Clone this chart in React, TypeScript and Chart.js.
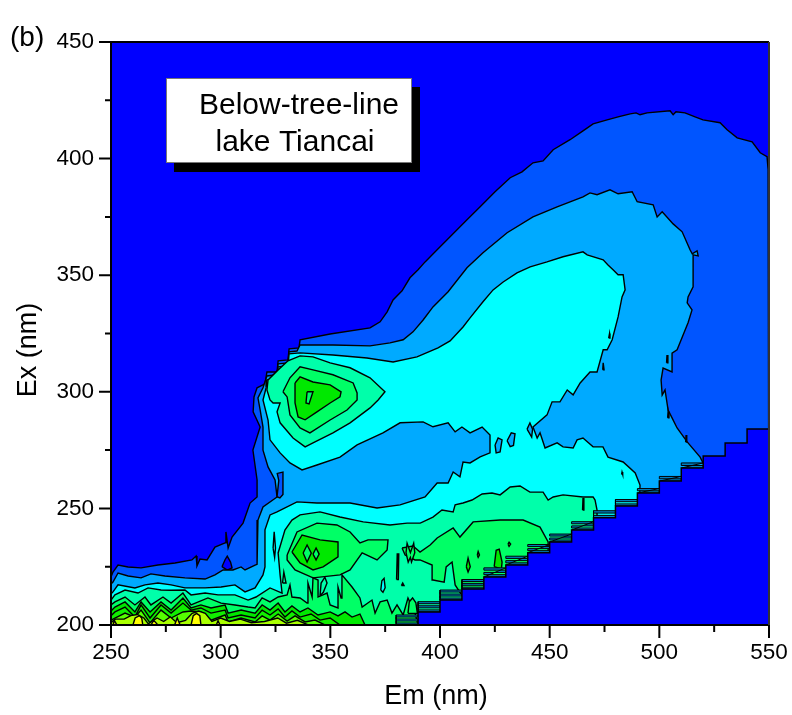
import React, { useEffect, useRef } from "react";
import { Chart, registerables } from "chart.js";

Chart.register(...registerables);

type P = [number, number];

const xTickValues = [250, 300, 350, 400, 450, 500, 550];
const yTickValues = [200, 250, 300, 350, 400, 450];

// Contour outlines, [Em, Ex] in nm.
const level1: P[] = [[250,220.6],[250.9,222.7],[253.2,225.7],[257.8,224.9],[263.7,224.5],[271.4,225.7],[279.2,226.6],[286.9,227.9],[288.8,229.6],[289.2,225.3],[290.6,228.3],[293.8,227.9],[297.4,233.4],[302,235.2],[302.4,239.9],[303.4,233],[305.2,237.7],[310.2,243.7],[313.4,252.3],[316.6,254.9],[316.6,262.2],[314.7,275],[318,284.9],[314.8,291.4],[315.2,297.8],[316.6,301.7],[320.2,303.4],[321.1,308.5],[325.7,308.5],[326.2,313.3],[330.7,313.7],[331.2,318.4],[335.7,318.8],[336.2,322.3],[349.9,324.8],[368.1,327.4],[372.7,330],[375.9,334.3],[378.6,339.4],[382.7,343.3],[386.3,348.9],[390,352.3],[393.2,355.7],[398.7,360.9],[404.6,366.5],[411.4,372.9],[418.3,379.3],[425.1,385.8],[432,391.8],[437.4,394.3],[442.4,398.2],[447,399],[451.6,403.8],[459.3,408.1],[465.2,411.9],[469.8,414.9],[476.2,416.6],[481.2,417.9],[486.7,419.2],[489.4,419.6],[491.2,418.8],[494.4,419.6],[504.9,420.5],[506.3,418.8],[507.6,420.1],[511.7,419.6],[516.3,417.9],[519.9,416.6],[527.7,415.4],[530.9,412.4],[535.5,408.9],[542.3,407.2],[546,402.5],[549.1,400.8],[549.6,395.2],[550,200],[250,200]];
const level1Hole: P[] = [[300.6,225],[302,228],[303,229.5],[304.5,227],[305.2,224.5],[303,223.5]];
const level2: P[] = [[525,260],[518.6,272],[512.7,278.5],[508.1,284.5],[505.8,288.8],[504,292.2],[502.6,300.8],[501.3,298.6],[500.8,305],[501.7,310.2],[505.8,308.5],[505.8,316.6],[508.1,318],[513.1,329.6],[514.9,335.1],[512.7,338.1],[513.1,340.7],[515.4,345],[515.4,358.7],[517.7,358.3],[517.2,360.4],[515,359.2],[514,360.9],[510.4,368.6],[506.3,372],[501.3,377.2],[499,375],[497.2,380.2],[489.9,381.5],[487.6,385.8],[481.2,384.9],[477.5,386.6],[471.6,384.5],[468.4,385.3],[465.2,383.6],[453.4,379.3],[442.4,375],[430.6,368.2],[419.6,359.6],[412.3,353.2],[403.7,342.9],[396.8,336.4],[392.3,330.8],[387.7,325.7],[383.2,322.3],[377.2,321],[368.1,319.7],[351.2,320.1],[336.2,320.1],[334.8,317.5],[331.2,317.1],[330.7,312.4],[326.2,312],[325.7,307.3],[321.1,306.8],[319.3,301.7],[317,297.4],[318,292.2],[319.3,284.9],[319.3,275],[321.6,267.8],[324.8,262.2],[325.7,254.9],[319.3,250.6],[317,245],[316.6,226],[315.7,225.7],[311.1,223.6],[309.3,224.9],[305.6,223.6],[301.1,223.6],[297.4,221.5],[292.9,219.7],[283.7,220.2],[274.6,221],[268.2,221.9],[263.7,220.2],[257.8,221],[253.2,222.3],[250.9,218.4],[250,217.6],[250,200],[525,200]];
const level2Spur: P[] = [[325.7,255],[326.5,262],[325.8,265],[328.4,265.6],[328.4,256],[327,254.5]];
const level2MarkA: P[] = [[503.3,312.4],[503.5,315.8],[503.9,312.4]];
const level2MarkB: P[] = [[503.8,288.8],[504,291.4],[504.4,288.8]];
const level2MarkC: P[] = [[512,278.5],[512.2,281.5],[512.5,278.5]];
const level3: P[] = [[491,253.6],[491.2,260],[489,265.2],[483.5,269.9],[476.6,272],[474.3,276.4],[469.8,276.4],[465.2,280.2],[462.5,279.4],[460.7,275.9],[456.1,276.4],[453.4,278.1],[447.9,275.9],[445.6,282.4],[444.3,280.2],[442.4,284.9],[448.8,290.1],[451.1,295.7],[454.7,295.7],[458,300.8],[460.7,298.7],[463.9,303.8],[468.4,308.5],[471.6,308.5],[474.4,318],[476.2,318],[478.5,322.3],[481.2,332.1],[483,340.7],[484.4,343.7],[483.5,350.2],[481.2,350.2],[478.9,352.3],[476.6,354.4],[474.4,356.6],[467.1,358.7],[465.2,360],[456.1,357.9],[448.8,355.7],[441.1,353.6],[435.1,351],[428.8,347.1],[424.2,343.7],[419.6,338.6],[413.7,331.7],[410.5,327.8],[404.6,321.8],[399.1,318.8],[389.5,315],[378.6,312.8],[366.7,314.5],[351.2,315.8],[336.2,316.7],[331.2,316.3],[330.7,311.1],[326.2,310.7],[325.7,305.5],[321.1,305.1],[320.7,301.7],[319.3,296.5],[321.6,287.9],[322.5,279.4],[327.1,273.8],[331.6,269.5],[337.1,266.5],[343.9,268.6],[354.4,272],[362.2,277.2],[374,282.4],[381.8,286.7],[392.3,287.1],[396.8,285],[403.7,286.7],[406.9,282.8],[410,284.9],[413.7,282.4],[419.2,284.9],[422.8,281.5],[422.8,273.8],[418.3,272.1],[413.7,269.5],[410.5,269.9],[409.1,263.5],[406,265.6],[403.7,260.9],[398.7,260.9],[393.2,254.9],[381.8,251.5],[371.3,250.2],[359,252.3],[343.9,252.3],[334.8,252.8],[325.7,248.5],[322.5,247.2],[320.2,240.8],[320.2,224.9],[319.3,221.5],[315.7,215.9],[311.1,214.2],[306.5,217.2],[300.2,216.3],[292.9,215.9],[283.7,215.9],[277.4,217.2],[271.4,218],[265.5,217.2],[260.9,215.9],[253.2,217.2],[250.9,214.2],[250,213.3],[250,200],[491,200]];
const level3HoleA: P[] = [[425.1,277.2],[426.5,280.2],[428.3,279.4],[427.4,274.2],[425.6,273.8]];
const level3HoleB: P[] = [[430.6,279],[432.5,282.4],[434.2,282],[433.5,277],[432,276.5]];
const level3HoleC: P[] = [[439.7,284],[441,286.6],[442.2,284],[441.8,280.6]];
const level3MarkA: P[] = [[476.9,323],[477.3,325],[477.5,323]];
const level3MarkB: P[] = [[474.2,309.4],[474.4,312.4],[474.8,309.4]];
const level3MarkC: P[] = [[482.8,264.6],[483,265.6],[483.3,264.6]];
const level4Upper: P[] = [[321.6,305.1],[326.2,309.4],[330.7,313.3],[336.2,315.4],[342.1,315],[349.9,312.4],[359,310.3],[368.1,306],[374.9,300],[371.8,296.5],[368.1,293.1],[359,286.7],[351.2,282.4],[342.1,278.1],[338.5,276.4],[333,280.2],[327.1,286.7],[325.7,291.4],[327.1,295.2],[323.9,295.2],[322.5,296.5],[321.1,300.8]];
const level4Lower: P[] = [[471.6,249.3],[470.7,253.6],[469.8,254.9],[465.2,254.9],[456.1,255.8],[451.6,254.9],[449.3,253.6],[447,257],[441,257],[436.5,259.6],[432,259.2],[427.4,255.8],[423.7,256.6],[419.2,256.2],[414.6,253.6],[410.5,252.3],[406.9,251.5],[406,248.5],[400.9,249.3],[396.8,246.3],[391,243.7],[385,243.7],[377.2,242.9],[365,244.2],[354.4,246.3],[345.3,248.5],[336.2,247.2],[332.5,245],[329.3,240.7],[326.2,230.9],[327.1,221.4],[328,213.7],[322.5,215.9],[316.1,212],[312.5,210.7],[306.5,212.9],[298.8,212.9],[292.9,213.7],[286.5,212.9],[283.7,215],[277.4,214.9],[272.8,215],[266.9,215.9],[262.3,213.7],[256.4,215],[251.8,212.9],[250,210.7],[250,200],[472,200]];
const level4Lens: P[] = [[373,215],[373.5,219],[374.5,220],[375,216],[374,214]];
const level4Stem: P[] = [[323.9,233],[324.4,240],[325,233],[324.6,229]];
const level4MarkA: P[] = [[465,249.3],[465.2,254.5],[465.6,249.3]];
const level5Upper: P[] = [[328.4,300],[331.6,306],[336.2,310.7],[342.1,309.4],[351.2,307.3],[360.4,303.8],[362.2,299.5],[362.2,296.5],[357.6,292.2],[349.9,287.9],[340.7,282.4],[336.2,284.5],[331.6,290.1],[330.3,297.8]];
const level5Ring: P[] = [[330.3,230],[334.8,239.9],[343.9,243.7],[353,242.9],[359,239.9],[363.5,235.2],[367.2,236.5],[376.3,236.5],[375.9,232.2],[371.3,227.9],[364.5,230.9],[359,223.6],[354.4,221.5],[342.1,220.2],[333.9,223.6],[330.3,227.9]];
const level5Right: P[] = [[382.7,233],[387.7,233.9],[390.9,231.3],[395.5,234.3],[398.7,237.3],[406,241.6],[409.1,237.7],[415.1,244.2],[427.4,245],[437.9,245],[445.6,242],[449.3,235.6],[449.3,210.7],[411.4,210.7],[406.9,217.2],[405.5,227],[402.8,224.9],[401.9,218.4],[396.8,219.3],[396.4,225.7],[390.9,227.9],[388.6,227.9],[384.1,230]];
const level5Bottom: P[] = [[250,208.6],[251.8,209.9],[256.4,212],[260.9,208.6],[265.5,212],[268.2,208.6],[273.7,212],[277.4,209.4],[282.8,213.7],[286.5,208.6],[294.2,211.6],[300.2,209.4],[306.5,208.6],[312.5,207.7],[315.7,207.3],[318.9,211.6],[322.5,209.9],[326.2,212],[330.3,212.9],[331.6,217.2],[332.5,212],[336.2,211.6],[339.4,209.4],[339.8,218],[341.7,212],[342.1,220.2],[344.4,219.3],[344.4,212],[348.5,213.7],[349.9,208.6],[353.5,207.3],[353.5,216.3],[354.9,211.6],[355.3,221.5],[359.9,216.3],[363.5,211.6],[364.5,207.7],[369,210.7],[370.4,205.1],[372.7,209.9],[375.9,210.7],[378.1,205.1],[380.4,208.6],[383.2,204.3],[385.4,211.6],[388.6,205.1],[390,200],[250,200]];
const level5IslandA: P[] = [[380.2,219.5],[380.5,230.5],[381.2,230.5],[381,219.5]];
const level5IslandB: P[] = [[385.4,205],[386,210],[387.5,211.6],[389,209.5],[389.7,205]];
const level5IslandC: P[] = [[384.5,231],[385,235],[386.5,231],[388,235],[388.5,231],[387,227],[386.5,229],[385.5,227]];
const level5IslandD: P[] = [[382.4,216.9],[383,218],[383.6,216.9]];
const level4IslandE: P[] = [[345.3,212.5],[345.8,218],[347.5,220.5],[348.5,218],[346.8,214]];
const level4IslandF: P[] = [[328.2,218],[328.8,222.7],[329.8,218]];
const level6Upper: P[] = [[333.9,303.8],[336.2,306.4],[342.1,304.2],[349.9,303],[354.9,300],[354.4,297.8],[349.9,295.2],[343.9,291.4],[338.5,288],[335.3,289.2],[333.9,295.2]];
const level6Ring: P[] = [[332.5,231.3],[337.1,238.6],[345.3,236.5],[353.5,235.6],[353.5,229.2],[346.7,224.9],[342.1,223.6],[336.2,226.6]];
const level6IslandA: P[] = [[424.7,225],[425.6,232],[427,232.5],[428.3,227],[428,224]];
const level6IslandB: P[] = [[412,225],[412.8,228.7],[413.8,225],[412.8,222.7]];
const level6IslandC: P[] = [[417,230],[417.4,231.5],[418,230],[417.4,229]];
const level6IslandD: P[] = [[431,234.7],[431.5,235.5],[432.2,234.7],[431.5,233.7]];
const level6Bottom: P[] = [[250,206],[251.8,207.7],[256.4,209.9],[260.9,205.6],[263.7,209.9],[267.8,205.6],[272.8,209.9],[277.4,206.4],[282.8,211.6],[286.5,207.3],[291,208.6],[295.6,207.3],[302,208.6],[303.4,205.1],[309.3,206.4],[315.7,205.1],[318.9,208.6],[322.5,206.4],[326.2,209.4],[329.3,205.6],[332.5,208.2],[336.2,205.6],[339.8,207.3],[344.4,204.3],[349.9,205.6],[353.5,203.9],[356.7,205.6],[359.9,203.4],[363.5,204.7],[365.8,200],[250,200]];
const level7Upper: P[] = [[339.4,300],[342.1,300],[340.3,294.8],[338.9,295.2]];
const level7LensA: P[] = [[337.6,230.9],[339.4,234.3],[341.3,230.9],[339.4,227]];
const level7LensB: P[] = [[342.1,230.4],[343.5,233],[344.9,230.4],[343.5,227.9]];
const level7Bottom: P[] = [[250,204],[251.8,205.6],[256.4,207.7],[260.9,203.4],[263.7,208.6],[267.8,203],[272.8,208.6],[277.4,205.1],[282.8,209.4],[286.5,206.4],[291,207.3],[295.6,205.1],[302,206.4],[303.4,203],[309.3,204.3],[315.7,203],[318.9,206.4],[322.5,204.3],[326.2,206.9],[329.3,203.4],[332.5,206],[336.2,203.4],[341.2,204.7],[345.3,202.1],[349.9,203],[354.4,200],[250,200]];
const level8Bottom: P[] = [[250,202],[251.8,203],[256.4,205.1],[260.9,203.4],[263.7,206.4],[267.8,200.9],[272.8,206.4],[277.4,203],[282.8,205.6],[286.5,206],[291,205.6],[295.6,202.1],[302,204.3],[303.4,201.3],[309.3,203],[315.7,201.3],[318.9,203.9],[322.5,202.1],[326.2,204.7],[330.3,201.7],[333.9,203.9],[338.5,201.3],[343,202.1],[347.6,200],[250,200]];
const level9Bottom: P[] = [[250,201],[252,202.5],[256,202.5],[259,204],[262,204.5],[265,203],[267,200.5],[271,203],[274,201.5],[277,203.5],[280,201],[284,202],[287,205],[290,206],[293,205],[296,201.5],[300,203],[304,201.5],[309,202.5],[314,201],[320,201.5],[326,203],[330,200.8],[335,202],[340,200],[250,200]];
const yellowA: P[] = [[251,200],[251.5,202],[252.7,200]];
const yellowB: P[] = [[260,200],[261,203],[263,204],[264,203],[264.5,200]];
const yellowC: P[] = [[268.2,200],[269.5,202],[271.4,200]];
const yellowD: P[] = [[279,200],[280.2,203],[281.5,200]];
const yellowE: P[] = [[286.5,200],[287.5,204],[289,205],[290.5,204],[291,200]];
const yellowF: P[] = [[298,200],[298.8,201.8],[299.7,200]];

// Scatter cut-off: the blue staircase at the lower right.
const cutoff: P[] = [[550,284],[540,284],[540,278],[530,278],[530,272.5],[520,272.5],[520,267.3],[510,267.3],[510,261.7],[500,261.7],[500,256.6],[490,256.6],[490,251],[480,251],[480,246],[470,246],[470,240.7],[460,240.7],[460,235.6],[450,235.6],[450,231],[440,231],[440,225.7],[430,225.7],[430,220.6],[420,220.6],[420,215.4],[410,215.4],[410,210.7],[400,210.7],[400,205.6],[390,205.6],[390,200],[550,200]];

// Striped bands along each tread: left Em, right Em, base Ex, top Ex.
const bands: [number, number, number, number][] = [[510,520,267.3,269.5],[500,510,261.7,263.7],[490,500,256.6,258.5],[480,490,251,253.8],[470,480,246,249],[460,470,240.7,244.3],[450,460,235.6,239],[440,450,231,234.5],[430,440,225.7,229.5],[420,430,220.6,224.5],[410,420,215.4,219.5],[400,410,210.7,215],[390,400,205.6,210],[380,390,200,204.3]];

const BLUE0 = "#0000FF", C1 = "#0055FF", C2 = "#00AAFF", C3 = "#00FFFF", C4 = "#00FFAA", C5 = "#00FF66", C6 = "#00E800", C7 = "#11EE00", C8 = "#55FF00", C9 = "#AAFF00", C10 = "#FFFF00";

const layers: [P[], string][] = [
  [level1, C1], [level1Hole, BLUE0],
  [level2, C2], [level2Spur, C1], [level2MarkA, C1], [level2MarkB, C1], [level2MarkC, C1],
  [level3, C3], [level3HoleA, C2], [level3HoleB, C2], [level3HoleC, C2], [level3MarkA, C2], [level3MarkB, C2], [level3MarkC, C2],
  [level4Upper, C4], [level4Lower, C4], [level4Lens, C3], [level4Stem, C3], [level4MarkA, C3],
  [level5Upper, C5], [level5Ring, C5], [level5Right, C5], [level5Bottom, C5], [level5IslandA, C5], [level5IslandB, C5], [level5IslandC, C5], [level5IslandD, C5],
  [level4IslandE, C4], [level4IslandF, C4],
  [level6Upper, C6], [level6Ring, C6], [level6IslandA, C6], [level6IslandB, C6], [level6IslandC, C6], [level6IslandD, C6], [level6Bottom, C6],
  [level7Upper, C5], [level7LensA, C5], [level7LensB, C5], [level7Bottom, C7],
  [level8Bottom, C8], [level9Bottom, C9],
  [yellowA, C10], [yellowB, C10], [yellowC, C10], [yellowD, C10], [yellowE, C10], [yellowF, C10],
];

const FONT = "'Liberation Sans', Arial, sans-serif";

function poly(points: P[], color: string, width = 1.4) {
  const pts = [...points, points[0]].map(([x, y]) => ({ x, y }));
  return {
    type: "scatter" as const,
    data: pts,
    showLine: true,
    fill: "shape",
    backgroundColor: color,
    borderColor: "#000000",
    borderWidth: width,
    pointRadius: 0,
    tension: 0,
  };
}

function bandPath([l, r, b, t]: [number, number, number, number]): P[] {
  const count = Math.max(2, Math.round((t - b) / 0.9));
  const out: P[] = [[l, b], [r, b]];
  for (let i = 1; i <= count; i++) {
    const y = b + ((t - b) * i) / count;
    if (i % 2 === 1) out.push([r, y], [l, y]);
    else out.push([l, y], [r, y]);
  }
  return out;
}

const frame = {
  id: "frame",
  afterDatasetsDraw(chart: any) {
    const { ctx, chartArea: a, scales } = chart;
    ctx.save();
    // label box
    ctx.fillStyle = "#000";
    ctx.fillRect(174, 87, 246, 85);
    ctx.fillStyle = "#fff";
    ctx.fillRect(166, 78, 246, 85);
    ctx.strokeStyle = "#777";
    ctx.lineWidth = 1;
    ctx.strokeRect(166.5, 78.5, 245, 84);
    ctx.fillStyle = "#000";
    ctx.font = `30px ${FONT}`;
    ctx.textAlign = "center";
    ctx.textBaseline = "alphabetic";
    ctx.fillText("Below-tree-line", 299, 113.5);
    ctx.fillText("lake Tiancai", 295, 150.5);
    ctx.font = `28px ${FONT}`;
    ctx.textAlign = "left";
    ctx.fillText("(b)", 10, 46);
    // axis titles
    ctx.font = `27px ${FONT}`;
    ctx.textAlign = "center";
    ctx.fillText("Em (nm)", 436, 704);
    ctx.save();
    ctx.translate(36, 350);
    ctx.rotate(-Math.PI / 2);
    ctx.fillText("Ex (nm)", 0, 0);
    ctx.restore();
    // frame
    ctx.strokeStyle = "#000";
    ctx.lineWidth = 2;
    ctx.beginPath();
    ctx.moveTo(a.right, a.top);
    ctx.lineTo(a.left, a.top);
    ctx.lineTo(a.left, a.bottom);
    ctx.lineTo(a.right, a.bottom);
    ctx.stroke();
    ctx.strokeStyle = "#333";
    ctx.beginPath();
    ctx.moveTo(a.right, a.top);
    ctx.lineTo(a.right, a.bottom);
    ctx.stroke();
    // ticks
    ctx.strokeStyle = "#000";
    ctx.beginPath();
    for (const t of scales.x.ticks) {
      const px = scales.x.getPixelForValue(t.value);
      ctx.moveTo(px, a.bottom);
      ctx.lineTo(px, a.bottom + (xTickValues.includes(t.value) ? 13 : 7));
    }
    for (const t of scales.y.ticks) {
      const py = scales.y.getPixelForValue(t.value);
      ctx.moveTo(a.left, py);
      ctx.lineTo(a.left - (yTickValues.includes(t.value) ? 12 : 6), py);
    }
    ctx.stroke();
    ctx.restore();
  },
};

const background = {
  id: "background",
  beforeDatasetsDraw(chart: any) {
    const { ctx, chartArea: a } = chart;
    ctx.save();
    ctx.fillStyle = BLUE0;
    ctx.fillRect(a.left, a.top, a.right - a.left, a.bottom - a.top);
    ctx.restore();
  },
};

export default function App() {
  const ref = useRef<HTMLCanvasElement | null>(null);
  useEffect(() => {
    document.body.style.margin = "0";
    const drawn = [
      ...layers.map(([p, c]) => poly(p, c)),
      ...bands.map((b) => poly(bandPath(b), "#0080C0", 1)),
      poly(cutoff, BLUE0, 1.5),
    ];
    const chart = new Chart(ref.current as HTMLCanvasElement, {
      type: "scatter",
      data: { datasets: drawn.reverse() as any },
      plugins: [background, frame],
      options: {
        animation: false,
        responsive: false,
        events: [],
        layout: { padding: { top: 42, right: 23, left: 0, bottom: 0 } },
        plugins: { legend: { display: false }, tooltip: { enabled: false } },
        scales: {
          x: {
            type: "linear",
            min: 250,
            max: 550,
            afterFit: (s: any) => { s.height = 90; },
            border: { display: false },
            grid: { drawOnChartArea: false, tickLength: 13, tickColor: "transparent" },
            ticks: {
              stepSize: 25,
              autoSkip: false,
              maxRotation: 0,
              padding: 1,
              color: "#000",
              font: { family: FONT, size: 22.5 },
              callback: (v: any) => (xTickValues.includes(v) ? String(v) : ""),
            },
          },
          y: {
            type: "linear",
            min: 200,
            max: 450,
            afterFit: (s: any) => { s.width = 111; },
            border: { display: false },
            grid: { drawOnChartArea: false, tickLength: 12, tickColor: "transparent" },
            ticks: {
              stepSize: 25,
              autoSkip: false,
              padding: 5,
              color: "#000",
              font: { family: FONT, size: 22.5 },
              callback: (v: any) => (yTickValues.includes(v) ? String(v) : ""),
            },
          },
        },
      } as any,
    });
    return () => chart.destroy();
  }, []);
  return <canvas ref={ref} width={792} height={715} style={{ display: "block" }} />;
}
